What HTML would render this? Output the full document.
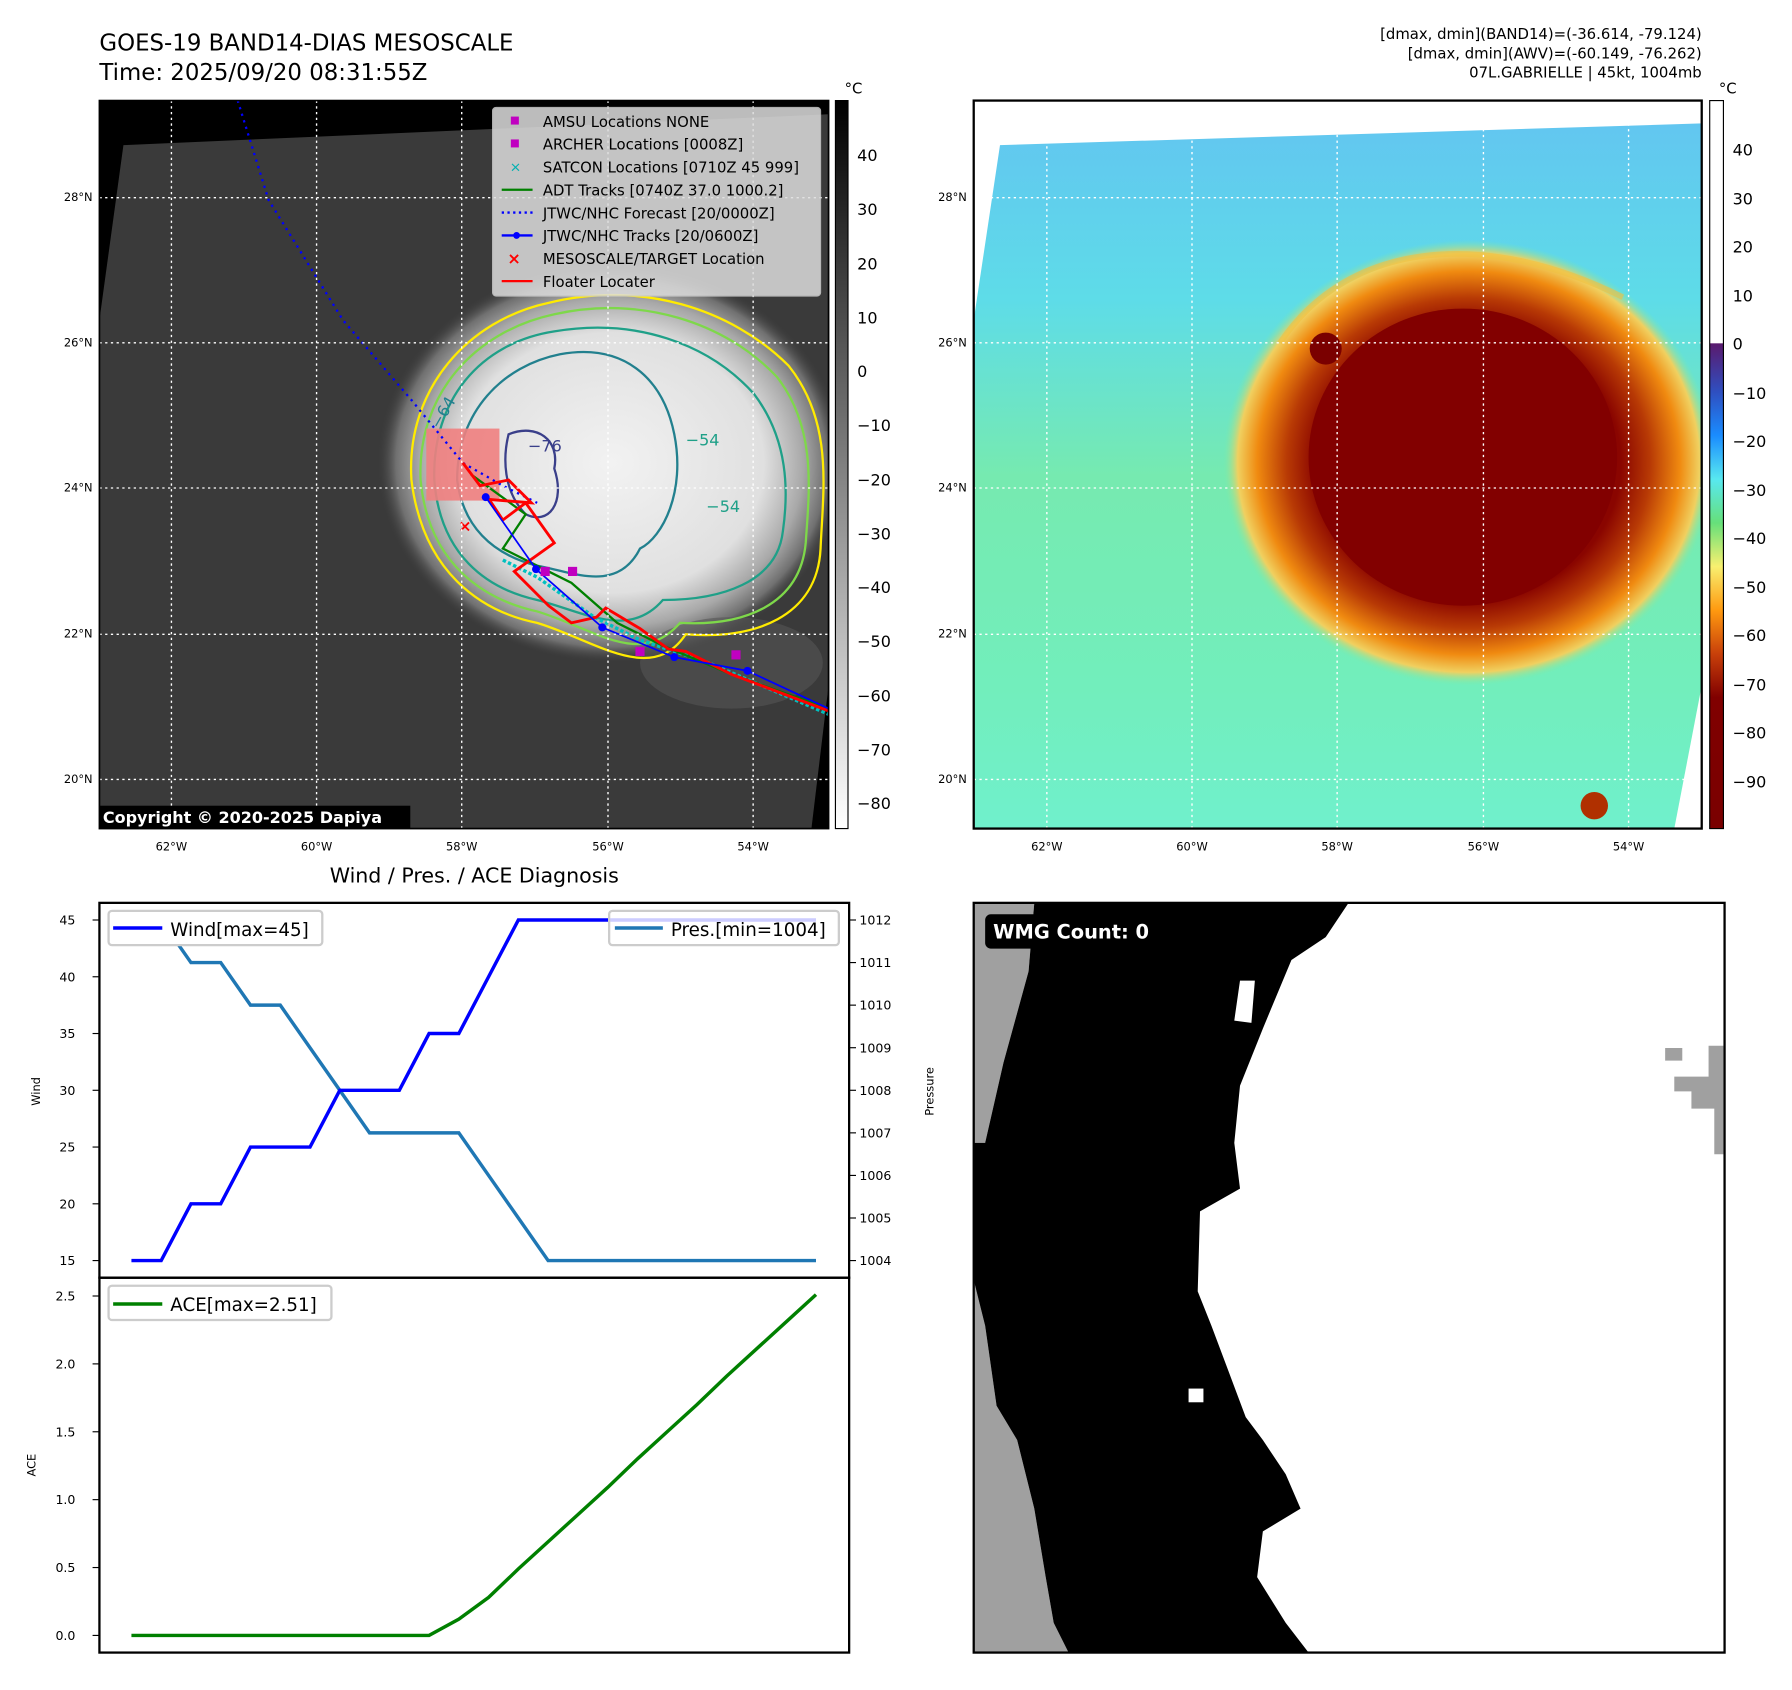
<!DOCTYPE html>
<html><head><meta charset="utf-8"><style>
html,body{margin:0;padding:0;background:#fff}
svg{display:block;font-family:"DejaVu Sans","Liberation Sans",sans-serif}
</style></head><body>
<svg id="root" width="1792" height="1690" viewBox="0 0 1568 1478.75" preserveAspectRatio="none" xmlns="http://www.w3.org/2000/svg">
<defs>
<linearGradient id="gcb" x1="0" y1="0" x2="0" y2="1"><stop offset="0" stop-color="#000"/><stop offset="1" stop-color="#fff"/></linearGradient>
<linearGradient id="ccb" x1="0" y1="0" x2="0" y2="1">
<stop offset="0" stop-color="#fff"/><stop offset="0.333" stop-color="#fff"/><stop offset="0.334" stop-color="#5a1a6e"/>
<stop offset="0.40" stop-color="#2f4fc0"/><stop offset="0.46" stop-color="#1a8cff"/><stop offset="0.52" stop-color="#58e8f0"/>
<stop offset="0.58" stop-color="#66e07a"/><stop offset="0.64" stop-color="#f8f070"/><stop offset="0.70" stop-color="#ff9a10"/>
<stop offset="0.76" stop-color="#c8400a"/><stop offset="0.82" stop-color="#800000"/><stop offset="1" stop-color="#7a0000"/></linearGradient>
<radialGradient id="cloud" cx="0.5" cy="0.5" r="0.5"><stop offset="0" stop-color="#f2f2f2"/><stop offset="0.65" stop-color="#e0e0e0"/><stop offset="0.82" stop-color="#a8a8a8"/><stop offset="0.92" stop-color="#707070"/><stop offset="1" stop-color="#3c3c3c" stop-opacity="0"/></radialGradient>
<radialGradient id="hot" cx="0.5" cy="0.5" r="0.5"><stop offset="0" stop-color="#820000"/><stop offset="0.62" stop-color="#8a0500"/><stop offset="0.74" stop-color="#b83a05"/><stop offset="0.86" stop-color="#f08a10"/><stop offset="0.94" stop-color="#f0d060"/><stop offset="1" stop-color="#78eca8" stop-opacity="0"/></radialGradient>
<linearGradient id="bg2" x1="0" y1="0" x2="0" y2="1"><stop offset="0" stop-color="#62c6f0"/><stop offset="0.25" stop-color="#5edce8"/><stop offset="0.5" stop-color="#76eab0"/><stop offset="0.8" stop-color="#72eebc"/><stop offset="1" stop-color="#70f0cc"/></linearGradient>
<clipPath id="c1"><rect x="87" y="88" width="638" height="637"/></clipPath>
<clipPath id="c2"><rect x="852" y="88" width="637" height="637"/></clipPath>
</defs>

<text x="87" y="44" font-size="20">GOES-19 BAND14-DIAS MESOSCALE</text>
<text x="87" y="70" font-size="20">Time: 2025/09/20 08:31:55Z</text>
<g font-size="13" text-anchor="end">
<text x="1489" y="34">[dmax, dmin](BAND14)=(-36.614, -79.124)</text>
<text x="1489" y="51">[dmax, dmin](AWV)=(-60.149, -76.262)</text>
<text x="1489" y="68">07L.GABRIELLE | 45kt, 1004mb</text></g>

<!-- left map -->
<g clip-path="url(#c1)">
<rect x="87" y="88" width="638" height="637" fill="#000"/>
<polygon points="108,127 725,100 725,600 710,725 87,725 87,280" fill="#3a3a3a"/>
<ellipse cx="535" cy="405" rx="205" ry="175" fill="url(#cloud)"/>
<ellipse cx="640" cy="580" rx="80" ry="40" fill="#555" opacity="0.6"/>
<path d="M360,420 C355,340 410,280 480,265 C560,245 640,270 690,320 C730,370 720,430 718,480 C715,540 660,560 600,555 C570,600 520,560 470,545 C420,535 370,500 360,420Z" fill="none" stroke="#ffeb00" stroke-width="2"/>
<path d="M368,420 C365,345 415,290 485,275 C560,258 635,282 680,330 C715,375 708,430 705,475 C700,530 650,548 595,545 C560,585 520,550 470,535 C425,525 375,495 368,420Z" fill="none" stroke="#7ed84a" stroke-width="2"/>
<path d="M380,420 C378,350 420,300 485,290 C555,278 620,300 660,345 C690,385 690,430 685,465 C680,510 630,525 580,525 C550,560 510,535 470,525 C425,515 385,485 380,420Z" fill="none" stroke="#1fa088" stroke-width="2"/>
<path d="M400,420 C400,360 440,320 490,310 C545,300 580,330 590,380 C600,430 580,470 560,480 C540,520 500,500 470,495 C430,485 405,460 400,420Z" fill="none" stroke="#22808e" stroke-width="2"/>
<path d="M445,380 C470,370 490,385 485,410 C495,440 480,460 460,450 C440,430 440,400 445,380Z" fill="none" stroke="#3a3f8a" stroke-width="2"/>
<text x="600" y="390" font-size="14" fill="#1fa088">−54</text><text x="618" y="448" font-size="14" fill="#1fa088">−54</text>
<text x="375" y="370" font-size="14" fill="#22808e" transform="rotate(-60 385 365)">−64</text>
<text x="462" y="395" font-size="14" fill="#3a3f8a">−76</text>
<rect x="373" y="375" width="64" height="63" fill="#f08080" opacity="0.9"/>
<polyline points="208,88 235,175 300,280 360,350 405,405 440,425 470,440" fill="none" stroke="#00f" stroke-width="2" stroke-dasharray="2,4"/>
<polyline points="440,490 470,505 520,540 560,560 620,580 725,625" fill="none" stroke="#00c0c0" stroke-width="3" stroke-dasharray="3,2"/>
<polyline points="412,415 460,450 440,480 480,500 500,510 540,545 560,555 580,565 640,590 725,620" fill="none" stroke="#008000" stroke-width="2"/>
<polyline points="405,405 420,425 445,420 465,440 428,437 440,455 460,440 485,475 450,500 480,530 500,545 522,540 530,532 560,550 585,568 600,570 640,590 725,622" fill="none" stroke="#f00" stroke-width="2.5"/>
<polyline points="425,435 469,498 527,549 590,575 654,587 725,620" fill="none" stroke="#00f" stroke-width="1.5"/>
<g fill="#00f"><circle cx="425" cy="435" r="3.5"/><circle cx="469" cy="498" r="3.5"/><circle cx="527" cy="549" r="3.5"/><circle cx="590" cy="575" r="3.5"/><circle cx="654" cy="587" r="3.5"/></g>
<g fill="#c000c0"><rect x="473" y="496" width="8" height="8"/><rect x="497" y="496" width="8" height="8"/><rect x="556" y="566" width="8" height="8"/><rect x="640" y="569" width="8" height="8"/></g>
<text x="401" y="465" font-size="14" fill="#f00" font-weight="bold">×</text>
<g stroke="#fff" stroke-width="1.2" stroke-dasharray="2,3">
<line x1="150" y1="88" x2="150" y2="725"/><line x1="277" y1="88" x2="277" y2="725"/><line x1="404" y1="88" x2="404" y2="725"/><line x1="532" y1="88" x2="532" y2="725"/><line x1="659" y1="88" x2="659" y2="725"/>
<line x1="87" y1="173" x2="725" y2="173"/><line x1="87" y1="300" x2="725" y2="300"/><line x1="87" y1="427" x2="725" y2="427"/><line x1="87" y1="555" x2="725" y2="555"/><line x1="87" y1="682" x2="725" y2="682"/></g>
<g>
<rect x="431" y="94" width="287" height="165" fill="#ddd" opacity="0.85" rx="3" stroke="#ccc"/>
<g font-size="13" fill="#000">
<rect x="447" y="102" width="7" height="7" fill="#c000c0"/><text x="475" y="111">AMSU Locations NONE</text>
<rect x="447" y="122" width="7" height="7" fill="#c000c0"/><text x="475" y="131">ARCHER Locations [0008Z]</text>
<text x="446" y="150" fill="#00b0b0" font-size="12">×</text><text x="475" y="151">SATCON Locations [0710Z 45 999]</text>
<line x1="439" y1="166" x2="466" y2="166" stroke="#008000" stroke-width="2"/><text x="475" y="171">ADT Tracks [0740Z 37.0 1000.2]</text>
<line x1="439" y1="186" x2="466" y2="186" stroke="#00f" stroke-width="2" stroke-dasharray="2,3"/><text x="475" y="191">JTWC/NHC Forecast [20/0000Z]</text>
<line x1="439" y1="206" x2="466" y2="206" stroke="#00f" stroke-width="2"/><circle cx="452" cy="206" r="3" fill="#00f"/><text x="475" y="211">JTWC/NHC Tracks [20/0600Z]</text>
<text x="444" y="231" fill="#f00" font-weight="bold" font-size="14">×</text><text x="475" y="231">MESOSCALE/TARGET Location</text>
<line x1="439" y1="246" x2="466" y2="246" stroke="#f00" stroke-width="2"/><text x="475" y="251">Floater Locater</text></g></g>
<rect x="87" y="705" width="272" height="20" fill="#000"/>
<text x="90" y="720" font-size="14" font-weight="bold" fill="#fff">Copyright © 2020-2025 Dapiya</text>
</g>
<rect x="87" y="88" width="638" height="637" fill="none" stroke="#000" stroke-width="1.5"/>
<rect x="731" y="88" width="11" height="637" fill="url(#gcb)" stroke="#000"/>
<text x="739" y="82" font-size="13">°C</text>
<g font-size="14">
<text x="750" y="141">40</text><text x="750" y="188">30</text><text x="750" y="236">20</text><text x="750" y="283">10</text><text x="750" y="330">0</text><text x="750" y="377">−10</text><text x="750" y="425">−20</text><text x="750" y="472">−30</text><text x="750" y="519">−40</text><text x="750" y="566">−50</text><text x="750" y="614">−60</text><text x="750" y="661">−70</text><text x="750" y="708">−80</text></g>
<g font-size="10">
<text x="81" y="176" text-anchor="end">28°N</text><text x="81" y="303" text-anchor="end">26°N</text><text x="81" y="430" text-anchor="end">24°N</text><text x="81" y="558" text-anchor="end">22°N</text><text x="81" y="685" text-anchor="end">20°N</text>
<text x="150" y="744" text-anchor="middle">62°W</text><text x="277" y="744" text-anchor="middle">60°W</text><text x="404" y="744" text-anchor="middle">58°W</text><text x="532" y="744" text-anchor="middle">56°W</text><text x="659" y="744" text-anchor="middle">54°W</text></g>

<!-- right map -->
<g clip-path="url(#c2)">
<rect x="852" y="88" width="637" height="637" fill="#fff"/>
<polygon points="875,127 1489,108 1489,600 1465,725 852,725 852,280" fill="url(#bg2)"/>
<ellipse cx="1285" cy="405" rx="215" ry="195" fill="url(#hot)"/>
<ellipse cx="1280" cy="400" rx="135" ry="130" fill="#820000"/>
<path d="M1120,300 C1180,210 1300,200 1420,260" fill="none" stroke="#f0c040" stroke-width="5" opacity="0.6"/>
<circle cx="1160" cy="305" r="14" fill="#7a0000"/>
<circle cx="1395" cy="705" r="12" fill="#b03000"/>
<g stroke="#fff" stroke-width="1.2" stroke-dasharray="2,3">
<line x1="916" y1="88" x2="916" y2="725"/><line x1="1043" y1="88" x2="1043" y2="725"/><line x1="1170" y1="88" x2="1170" y2="725"/><line x1="1298" y1="88" x2="1298" y2="725"/><line x1="1425" y1="88" x2="1425" y2="725"/>
<line x1="852" y1="173" x2="1489" y2="173"/><line x1="852" y1="300" x2="1489" y2="300"/><line x1="852" y1="427" x2="1489" y2="427"/><line x1="852" y1="555" x2="1489" y2="555"/><line x1="852" y1="682" x2="1489" y2="682"/></g>
</g>
<rect x="852" y="88" width="637" height="637" fill="none" stroke="#000" stroke-width="2"/>
<rect x="1496" y="88" width="12" height="637" fill="url(#ccb)" stroke="#000"/>
<text x="1504" y="82" font-size="13">°C</text>
<g font-size="14">
<text x="1516" y="136">40</text><text x="1516" y="179">30</text><text x="1516" y="221">20</text><text x="1516" y="264">10</text><text x="1516" y="306">0</text><text x="1516" y="349">−10</text><text x="1516" y="391">−20</text><text x="1516" y="434">−30</text><text x="1516" y="476">−40</text><text x="1516" y="519">−50</text><text x="1516" y="561">−60</text><text x="1516" y="604">−70</text><text x="1516" y="646">−80</text><text x="1516" y="689">−90</text></g>
<g font-size="10">
<text x="846" y="176" text-anchor="end">28°N</text><text x="846" y="303" text-anchor="end">26°N</text><text x="846" y="430" text-anchor="end">24°N</text><text x="846" y="558" text-anchor="end">22°N</text><text x="846" y="685" text-anchor="end">20°N</text>
<text x="916" y="744" text-anchor="middle">62°W</text><text x="1043" y="744" text-anchor="middle">60°W</text><text x="1170" y="744" text-anchor="middle">58°W</text><text x="1298" y="744" text-anchor="middle">56°W</text><text x="1425" y="744" text-anchor="middle">54°W</text></g>

<!-- charts -->
<text x="415" y="772" font-size="18" text-anchor="middle">Wind / Pres. / ACE Diagnosis</text>
<g id="charts"></g>
<rect x="87" y="790" width="656" height="328" fill="none" stroke="#000" stroke-width="2"/>
<rect x="87" y="1118" width="656" height="328" fill="none" stroke="#000" stroke-width="2"/>
<text font-size="10" transform="translate(35 955) rotate(-90)" text-anchor="middle">Wind</text>
<text font-size="10" transform="translate(817 955) rotate(-90)" text-anchor="middle">Pressure</text>
<text font-size="10" transform="translate(31 1282) rotate(-90)" text-anchor="middle">ACE</text>
<g><rect x="95" y="797" width="187" height="30" fill="#fff" stroke="#ccc" stroke-width="2" rx="3"/>
<line x1="99" y1="812" x2="142" y2="812" stroke="#00f" stroke-width="3"/><text x="149" y="819" font-size="16">Wind[max=45]</text></g>
<g><rect x="533" y="797" width="201" height="30" fill="#fff" fill-opacity="0.8" stroke="#ccc" stroke-width="2" rx="3"/>
<line x1="538" y1="812" x2="580" y2="812" stroke="#1f77b4" stroke-width="3"/><text x="587" y="819" font-size="16">Pres.[min=1004]</text></g>
<g><rect x="95" y="1125" width="195" height="30" fill="#fff" stroke="#ccc" stroke-width="2" rx="3"/>
<line x1="99" y1="1141" x2="142" y2="1141" stroke="#008000" stroke-width="3"/><text x="149" y="1147" font-size="16">ACE[max=2.51]</text></g>

<!-- WMG panel -->
<g>
<rect x="852" y="790" width="657" height="656" fill="#fff"/>
<polygon points="852,790 905,790 900,850 878,930 862,1000 852,1000" fill="#a0a0a0"/>
<polygon points="852,1120 862,1160 872,1230 890,1260 905,1320 915,1380 922,1420 935,1446 852,1446" fill="#a0a0a0"/>
<polygon points="905,790 1180,790 1160,820 1130,840 1105,900 1085,950 1080,1000 1085,1040 1050,1060 1048,1130 1060,1160 1075,1200 1090,1240 1105,1260 1125,1290 1138,1320 1105,1340 1100,1380 1125,1420 1145,1446 935,1446 922,1420 915,1380 905,1320 890,1260 872,1230 862,1160 852,1120 852,1000 862,1000 878,930 900,850" fill="#000"/>
<polygon points="1085,858 1098,858 1095,895 1080,893" fill="#fff"/>
<rect x="1040" y="1215" width="13" height="12" fill="#fff"/>
<polygon points="1457,917 1472,917 1472,928 1457,928" fill="#a0a0a0"/>
<polygon points="1495,915 1508,915 1508,1010 1500,1010 1500,970 1480,970 1480,955 1465,955 1465,942 1495,942" fill="#a0a0a0"/>
<rect x="862" y="800" width="162" height="30" fill="#000" rx="5"/>
<text x="869" y="821" font-size="17" font-weight="bold" fill="#fff">WMG Count: 0</text>
</g>
<rect x="852" y="790" width="657" height="656" fill="none" stroke="#000" stroke-width="2"/>
</svg>
<script>
const windValues=[15,15,20,20,25,25,25,30,30,30,35,35,40,45,45,45,45,45,45,45,45,45,45,45];
const presValues=[1012,1012,1011,1011,1010,1010,1009,1008,1007,1007,1007,1007,1006,1005,1004,1004,1004,1004,1004,1004,1004,1004,1004,1004];
const aceValues=[0,0,0,0,0,0,0,0,0,0,0,0.12,0.28,0.49,0.69,0.89,1.09,1.30,1.50,1.70,1.91,2.11,2.31,2.51];
const windTicks=[15,20,25,30,35,40,45];
const presTicks=[1004,1005,1006,1007,1008,1009,1010,1011,1012];
const aceTicks=[0,0.5,1.0,1.5,2.0,2.5];
const NS='http://www.w3.org/2000/svg';
const g=document.getElementById('charts');
const xS=i=>115+i*(714-115)/(windValues.length-1);
const yW=v=>1103-(v-15)*(1103-805)/30;
const yP=v=>1103-(v-1004)*(1103-805)/8;
const yA=v=>1431-v*(1431-1134)/2.5;
function mk(t,a){const e=document.createElementNS(NS,t);for(const k in a)e.setAttribute(k,a[k]);g.appendChild(e);return e;}
function line(vals,yf,color,name){
  const p=mk('polyline',{points:vals.map((v,i)=>xS(i)+','+yf(v)).join(' '),fill:'none',stroke:color,'stroke-width':3});
  
  
}
line(presValues,yP,'#1f77b4','pressure-line');
line(windValues,yW,'#0000ff','wind-line');
line(aceValues,yA,'#008000','ace-line');
windTicks.forEach(v=>{const y=yW(v);mk('line',{x1:81,x2:87,y1:y,y2:y,stroke:'#000'});
  const t=mk('text',{x:66,y:y+4,'font-size':11,'text-anchor':'end'});t.textContent=v;
  
  });
presTicks.forEach(v=>{const y=yP(v);mk('line',{x1:743,x2:749,y1:y,y2:y,stroke:'#000'});
  const t=mk('text',{x:752,y:y+4,'font-size':11});t.textContent=v;
  
  });
aceTicks.forEach(v=>{const y=yA(v);mk('line',{x1:81,x2:87,y1:y,y2:y,stroke:'#000'});
  const t=mk('text',{x:66,y:y+4,'font-size':11,'text-anchor':'end'});t.textContent=v.toFixed(1);
  
  });
</script>
</body></html>
